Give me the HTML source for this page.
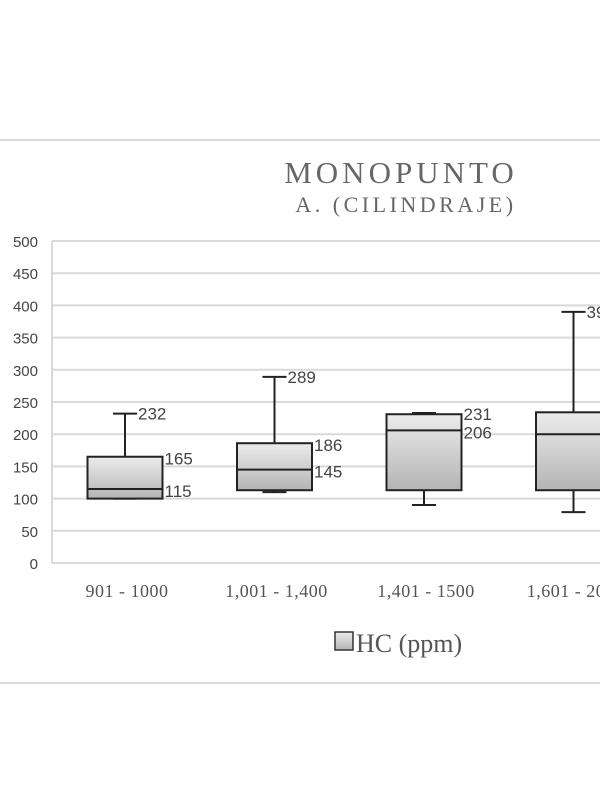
<!DOCTYPE html>
<html><head><meta charset="utf-8"><style>
html,body{margin:0;padding:0;background:#fff;width:600px;height:800px;overflow:hidden}
svg{display:block}
</style></head><body>
<svg id="chart" width="600" height="800">
<defs>
<linearGradient id="boxg" x1="0" y1="0" x2="0" y2="1">
<stop offset="0" stop-color="#ececec"/><stop offset="1" stop-color="#b4b4b4"/>
</linearGradient>
</defs>
<line x1="0" y1="140" x2="600" y2="140" stroke="#d9d9d9" stroke-width="2"/>
<line x1="0" y1="683" x2="600" y2="683" stroke="#d9d9d9" stroke-width="2"/>
<text x="401" y="183" text-anchor="middle" font-family="Liberation Serif, serif" font-size="31" fill="#666" letter-spacing="4">MONOPUNTO</text>
<text x="406" y="212" text-anchor="middle" font-family="Liberation Serif, serif" font-size="22" fill="#666" letter-spacing="3.5">A. (CILINDRAJE)</text>
<g id="grid"></g><g id="boxes"></g><g id="labels"></g>
<g>
<rect x="335" y="632" width="18" height="18" fill="url(#boxg)" stroke="#333" stroke-width="1.5"/>
<text x="356" y="652" font-family="Liberation Serif, serif" font-size="26" fill="#555">HC (ppm)</text>
</g>
</svg>
<script>
const categories=["901 - 1000","1,001 - 1,400","1,401 - 1500","1,601 - 2000"];
const mins=[100,110,90,79];
const q1s=[100,113,113,113];
const medians=[115,145,206,200];
const q3s=[165,186,231,234];
const maxs=[232,289,233,390];
const yTicks=[0,50,100,150,200,250,300,350,400,450,500];
const NS="http://www.w3.org/2000/svg";
const y=v=>563-v*0.644;
const xc=i=>125+i*149.5;
const bw=75;
function mk(tag,attrs,parent,text){const e=document.createElementNS(NS,tag);for(const k in attrs)e.setAttribute(k,attrs[k]);if(text!==undefined)e.textContent=text;parent.appendChild(e);return e;}
const grid=document.getElementById('grid'),boxes=document.getElementById('boxes'),labels=document.getElementById('labels');
yTicks.forEach(t=>{
 const l=mk('line',{x1:52,x2:600,y1:y(t),y2:y(t),stroke:'#d9d9d9','stroke-width':2},grid);
 
 
 const tx=mk('text',{x:38,y:y(t)+6,'text-anchor':'end','font-family':'Liberation Sans, sans-serif','font-size':15,fill:'#444'},grid,String(t));
 
 
});
const ax=mk('line',{x1:52,x2:52,y1:y(500),y2:y(0),stroke:'#d9d9d9','stroke-width':2},grid);


categories.forEach((c,i)=>{
 const cx=xc(i),g=mk('g',{},boxes);
 
 
 mk('line',{x1:cx,x2:cx,y1:y(maxs[i]),y2:y(q3s[i]),stroke:'#222','stroke-width':2},g);
 mk('line',{x1:cx-12,x2:cx+12,y1:y(maxs[i]),y2:y(maxs[i]),stroke:'#222','stroke-width':2},g);
 mk('line',{x1:cx,x2:cx,y1:y(q1s[i]),y2:y(mins[i]),stroke:'#222','stroke-width':2},g);
 mk('line',{x1:cx-12,x2:cx+12,y1:y(mins[i]),y2:y(mins[i]),stroke:'#222','stroke-width':2},g);
 mk('rect',{x:cx-bw/2,y:y(q3s[i]),width:bw,height:y(q1s[i])-y(q3s[i]),fill:'url(#boxg)',stroke:'#222','stroke-width':2},g);
 mk('line',{x1:cx-bw/2,x2:cx+bw/2,y1:y(medians[i]),y2:y(medians[i]),stroke:'#222','stroke-width':2},g);
 const f={'font-family':'Liberation Sans, sans-serif','font-size':17,fill:'#444'};
 if(i!==2){
  const a=mk('text',Object.assign({x:cx+13,y:y(maxs[i])+6},f),labels,String(maxs[i]));
  
  
 }
 if(i!==3){
  const b=mk('text',Object.assign({x:cx+bw/2+2,y:y(q3s[i])+(i==2?6:8)},f),labels,String(q3s[i]));
  
  
  const m=mk('text',Object.assign({x:cx+bw/2+2,y:y(medians[i])+(i==2?8:8)},f),labels,String(medians[i]));
  
  
 }
 const xl=mk('text',{x:cx+2,y:597,'text-anchor':'middle','font-family':'Liberation Serif, serif','font-size':18,fill:'#555','letter-spacing':'0.5'},labels,c);
 
 
});
</script>
</body></html>
